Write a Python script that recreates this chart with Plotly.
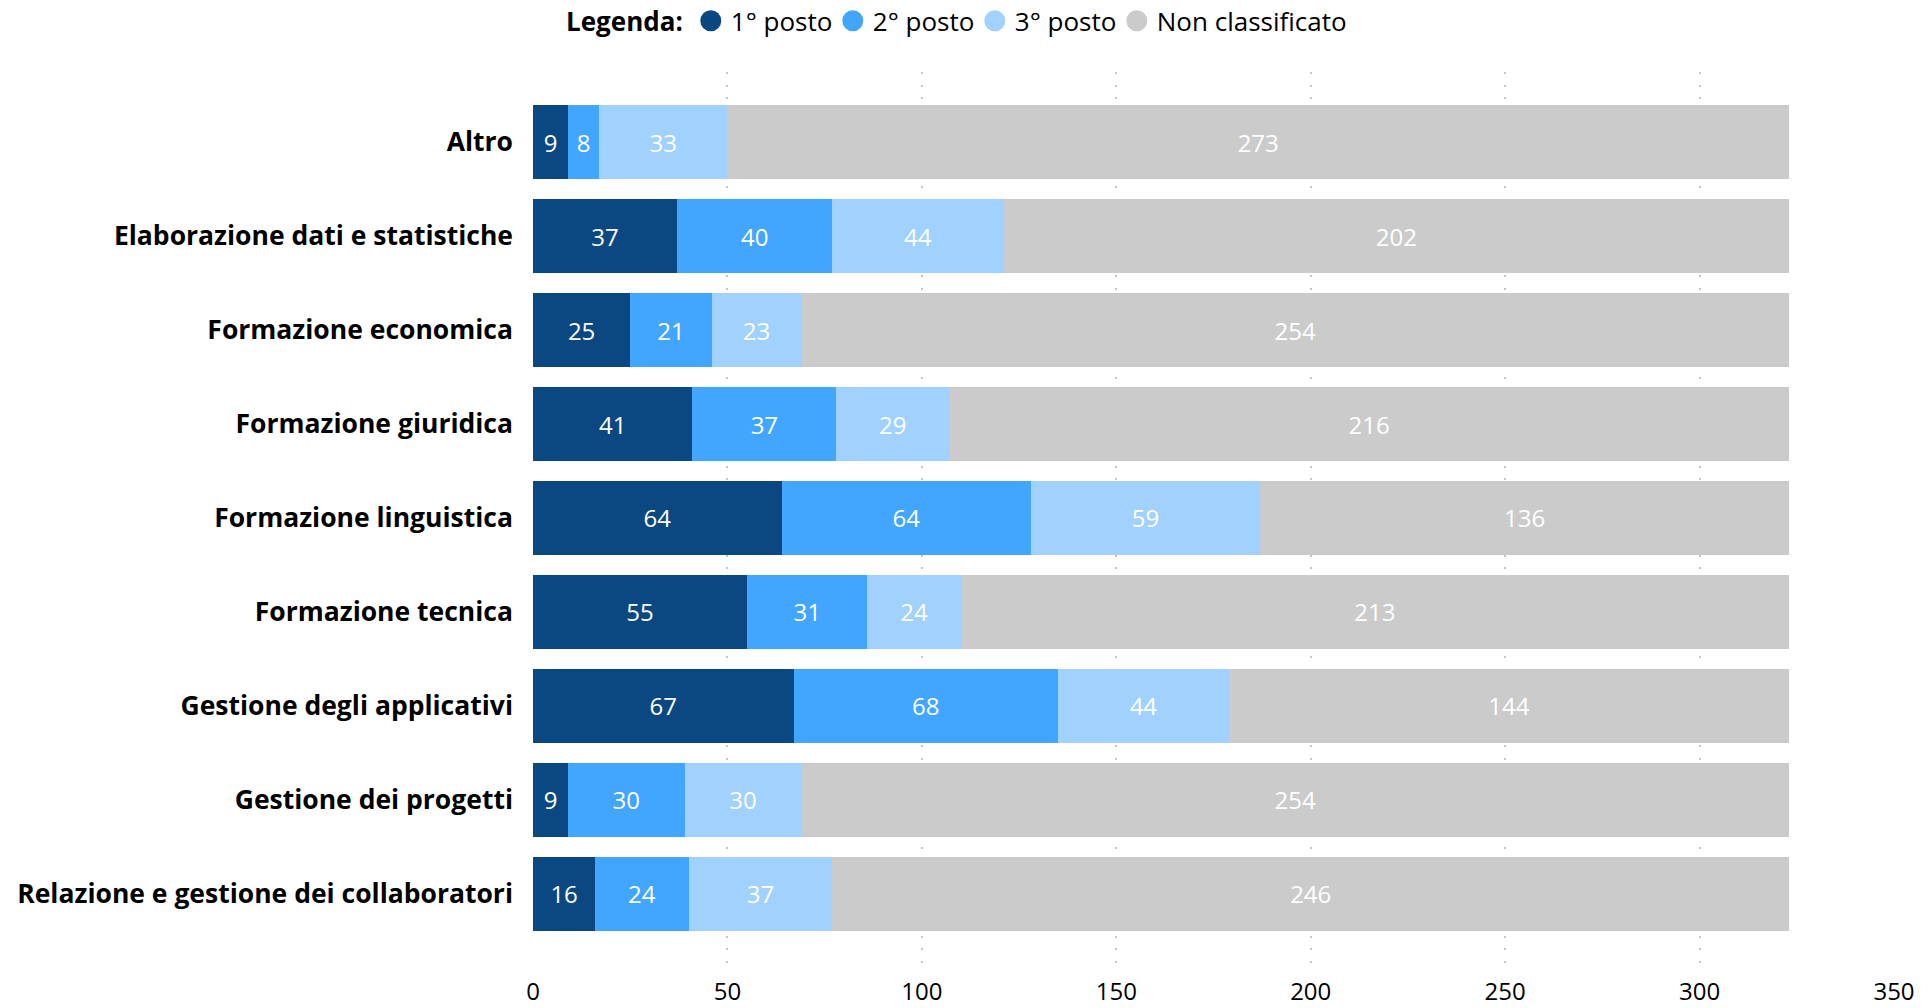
import plotly.graph_objects as go

categories = [
    "Altro",
    "Elaborazione dati e statistiche",
    "Formazione economica",
    "Formazione giuridica",
    "Formazione linguistica",
    "Formazione tecnica",
    "Gestione degli applicativi",
    "Gestione dei progetti",
    "Relazione e gestione dei collaboratori",
]
primo = [9, 37, 25, 41, 64, 55, 67, 9, 16]
secondo = [8, 40, 21, 37, 64, 31, 68, 30, 24]
terzo = [33, 44, 23, 29, 59, 24, 44, 30, 37]
non_classificato = [273, 202, 254, 216, 136, 213, 144, 254, 246]

series_names = ["1° posto", "2° posto", "3° posto", "Non classificato"]
series_values = [primo, secondo, terzo, non_classificato]
colors = ["#0B4881", "#42A5FE", "#A1D1FE", "#CBCBCB"]
x_ticks = [0, 50, 100, 150, 200, 250, 300, 350]

FONT = "Segoe UI, Open Sans, sans-serif"

fig = go.Figure()
for name, vals, col in zip(series_names, series_values, colors):
    fig.add_trace(go.Bar(
        y=categories, x=vals, orientation="h", name=name,
        marker=dict(color=col, line=dict(width=0)),
        text=[str(v) for v in vals], textposition="inside",
        insidetextanchor="middle", textangle=0, constraintext="none",
        textfont=dict(color="white", size=24, family=FONT),
        showlegend=False, hoverinfo="x+y+name",
    ))
# legend entries with round markers
for name, col in zip(series_names, colors):
    fig.add_trace(go.Scatter(
        x=[None], y=[None], mode="markers", name=name,
        marker=dict(color=col, size=16, symbol="circle",
                    line=dict(color=col, width=5)),
        showlegend=True,
    ))
# blank spacer entry so the last legend label is not clipped
fig.add_trace(go.Scatter(
    x=[None], y=[None], mode="markers", name=" ",
    marker=dict(color="rgba(0,0,0,0)", size=1),
    showlegend=True, hoverinfo="skip",
))

fig.update_layout(
    barmode="stack",
    bargap=0.213,
    width=1932, height=1008,
    margin=dict(l=533, r=38, t=72, b=38, autoexpand=False),
    paper_bgcolor="white", plot_bgcolor="white",
    font=dict(family=FONT, size=24, color="black"),
    legend=dict(
        orientation="h", x=0.0228, xanchor="left", y=1.057, yanchor="middle",
        title=dict(text="<b>Legenda:</b>", side="left", font=dict(size=26, family=FONT)),
        font=dict(size=26, family=FONT), itemsizing="trace",
        itemwidth=30, traceorder="normal",
        entrywidth=97, entrywidthmode="pixels",
    ),
    xaxis=dict(
        range=[0, 350], tickvals=x_ticks, showgrid=True,
        gridcolor="#C4C4C4", gridwidth=1.5, griddash="2px,10.7px",
        zeroline=False, showline=False, ticks="",
        tickfont=dict(size=24, family=FONT, color="black"),
        ticklabelstandoff=5, fixedrange=True, automargin=False,
    ),
    yaxis=dict(
        categoryorder="array", categoryarray=categories,
        range=[8.809, -0.745], showgrid=False, zeroline=False,
        showline=False, ticks="", ticklabelstandoff=19, automargin=False,
        tickfont=dict(size=26.5, family=FONT, color="black", weight="bold"),
    ),
    showlegend=True,
)

fig.write_html(
    "out.html",
    config={"displayModeBar": False},
    post_script="document.body.style.margin='0';document.body.style.overflow='hidden';",
)
